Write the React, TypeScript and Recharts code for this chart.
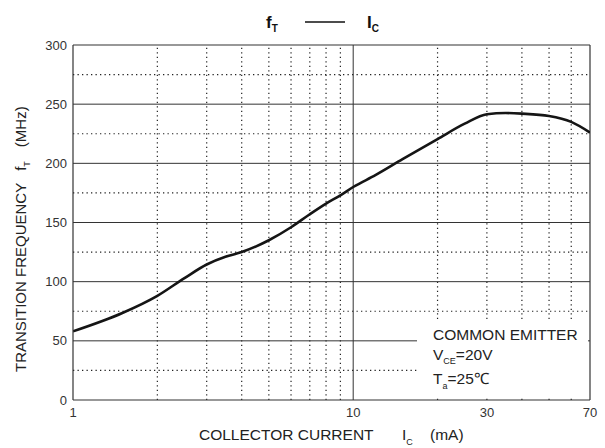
import { LineChart, Line, XAxis, YAxis, ReferenceLine } from 'recharts'

// collector current (mA) vs transition frequency (MHz)
const currentMA = [1, 1.5, 2, 2.5, 3, 3.5, 4, 5, 6, 7, 8, 9, 10, 12, 15, 20, 25, 30, 35, 40, 50, 60, 70]
const ftMHz = [58, 73.5, 88, 103, 114.5, 121, 125, 135, 146, 157, 166, 173, 180, 190, 203.5, 220.5, 233.5, 241.5, 242.5, 242, 240, 235, 226]

const xTicks = [1, 10, 30, 70]
const yTicks = [0, 50, 100, 150, 200, 250, 300]
const minorX = [2, 3, 4, 5, 6, 7, 8, 9, 20, 30, 40, 50, 60]
const majorX = [10]
const majorY = [50, 100, 150, 200, 250]
const minorY = [25, 75, 125, 175, 225, 275]

const FONT = '"Liberation Sans", Arial, Helvetica, sans-serif'
const INK = '#222'

export default function App() {
  const data = currentMA.map((ic, i) => ({ ic, ft: ftMHz[i] }))

  return (
    <div style={{ position: 'absolute', left: 0, top: 0, width: 605, height: 448, background: '#fff', fontFamily: FONT }}>
      <LineChart width={605} height={448} data={data} margin={{ top: 45, right: 15, bottom: 18, left: 0 }}>
        {minorY.map(v => (
          <ReferenceLine key={'my' + v} y={v} stroke={INK} strokeWidth={1.2} strokeDasharray="1.3 3.2" />
        ))}
        {minorX.map(v => (
          <ReferenceLine key={'mx' + v} x={v} stroke={INK} strokeWidth={1.2} strokeDasharray="1.3 3.2" />
        ))}
        {majorY.map(v => (
          <ReferenceLine key={'My' + v} y={v} stroke="#333" strokeWidth={1} />
        ))}
        {majorX.map(v => (
          <ReferenceLine key={'Mx' + v} x={v} stroke="#333" strokeWidth={1} />
        ))}
        <ReferenceLine y={300} stroke="#333" strokeWidth={1.2} />
        <ReferenceLine x={70} stroke="#333" strokeWidth={1.2} />
        <XAxis
          dataKey="ic"
          type="number"
          scale="log"
          domain={[1, 70]}
          ticks={xTicks}
          allowDataOverflow
          height={30}
          tickLine={false}
          axisLine={{ stroke: '#333', strokeWidth: 1.2 }}
          tick={{ fontSize: 13, fill: '#333', fontFamily: FONT }}
          tickSize={6}
          tickMargin={2}
        />
        <YAxis
          type="number"
          domain={[0, 300]}
          ticks={yTicks}
          width={73}
          tickLine={false}
          axisLine={{ stroke: '#333', strokeWidth: 1.2 }}
          tick={{ fontSize: 13, fill: '#333', fontFamily: FONT }}
          tickSize={4}
          tickMargin={2}
        />
        <Line
          dataKey="ft"
          type="monotone"
          stroke="#151515"
          strokeWidth={2.6}
          dot={false}
          isAnimationActive={false}
        />
      </LineChart>

      <svg width={605} height={448} style={{ position: 'absolute', left: 0, top: 0, pointerEvents: 'none' }} fontFamily={FONT}>
        {/* title */}
        <text x={266} y={28} fontSize={17} fontWeight="bold" fill="#111">
          f<tspan fontSize={10} dy={4}>T</tspan>
        </text>
        <line x1={305} x2={345} y1={22} y2={22} stroke="#111" strokeWidth={1.6} />
        <text x={367} y={28} fontSize={17} fontWeight="bold" fill="#111">
          I<tspan fontSize={10} dy={4}>C</tspan>
        </text>

        {/* y-axis title */}
        <text transform="translate(26,372) rotate(-90)" fontSize={15} fill="#222">
          TRANSITION FREQUENCY
          <tspan dx={12}>f</tspan>
          <tspan fontSize={9} dy={4}>T</tspan>
          <tspan dx={14} dy={-4}>(MHz)</tspan>
        </text>

        {/* x-axis title */}
        <text x={199} y={440} fontSize={15.5} fill="#222">
          COLLECTOR CURRENT
        </text>
        <text x={402} y={440} fontSize={15.5} fill="#222">
          I<tspan fontSize={9} dy={5}>C</tspan>
        </text>
        <text x={430} y={440} fontSize={15.5} fill="#222">
          (mA)
        </text>

        {/* conditions box */}
        <rect x={417} y={322} width={171} height={74} fill="#fff" />
        <text x={433} y={340} fontSize={15.5} fill="#222">
          COMMON EMITTER
        </text>
        <text x={433} y={360} fontSize={15.5} fill="#222">
          V<tspan fontSize={9} dy={4}>CE</tspan>
          <tspan dy={-4}>=20V</tspan>
        </text>
        <text x={433} y={384} fontSize={15.5} fill="#222">
          T<tspan fontSize={9} dy={5}>a</tspan>
          <tspan dy={-5}>=25℃</tspan>
        </text>
      </svg>
    </div>
  )
}
